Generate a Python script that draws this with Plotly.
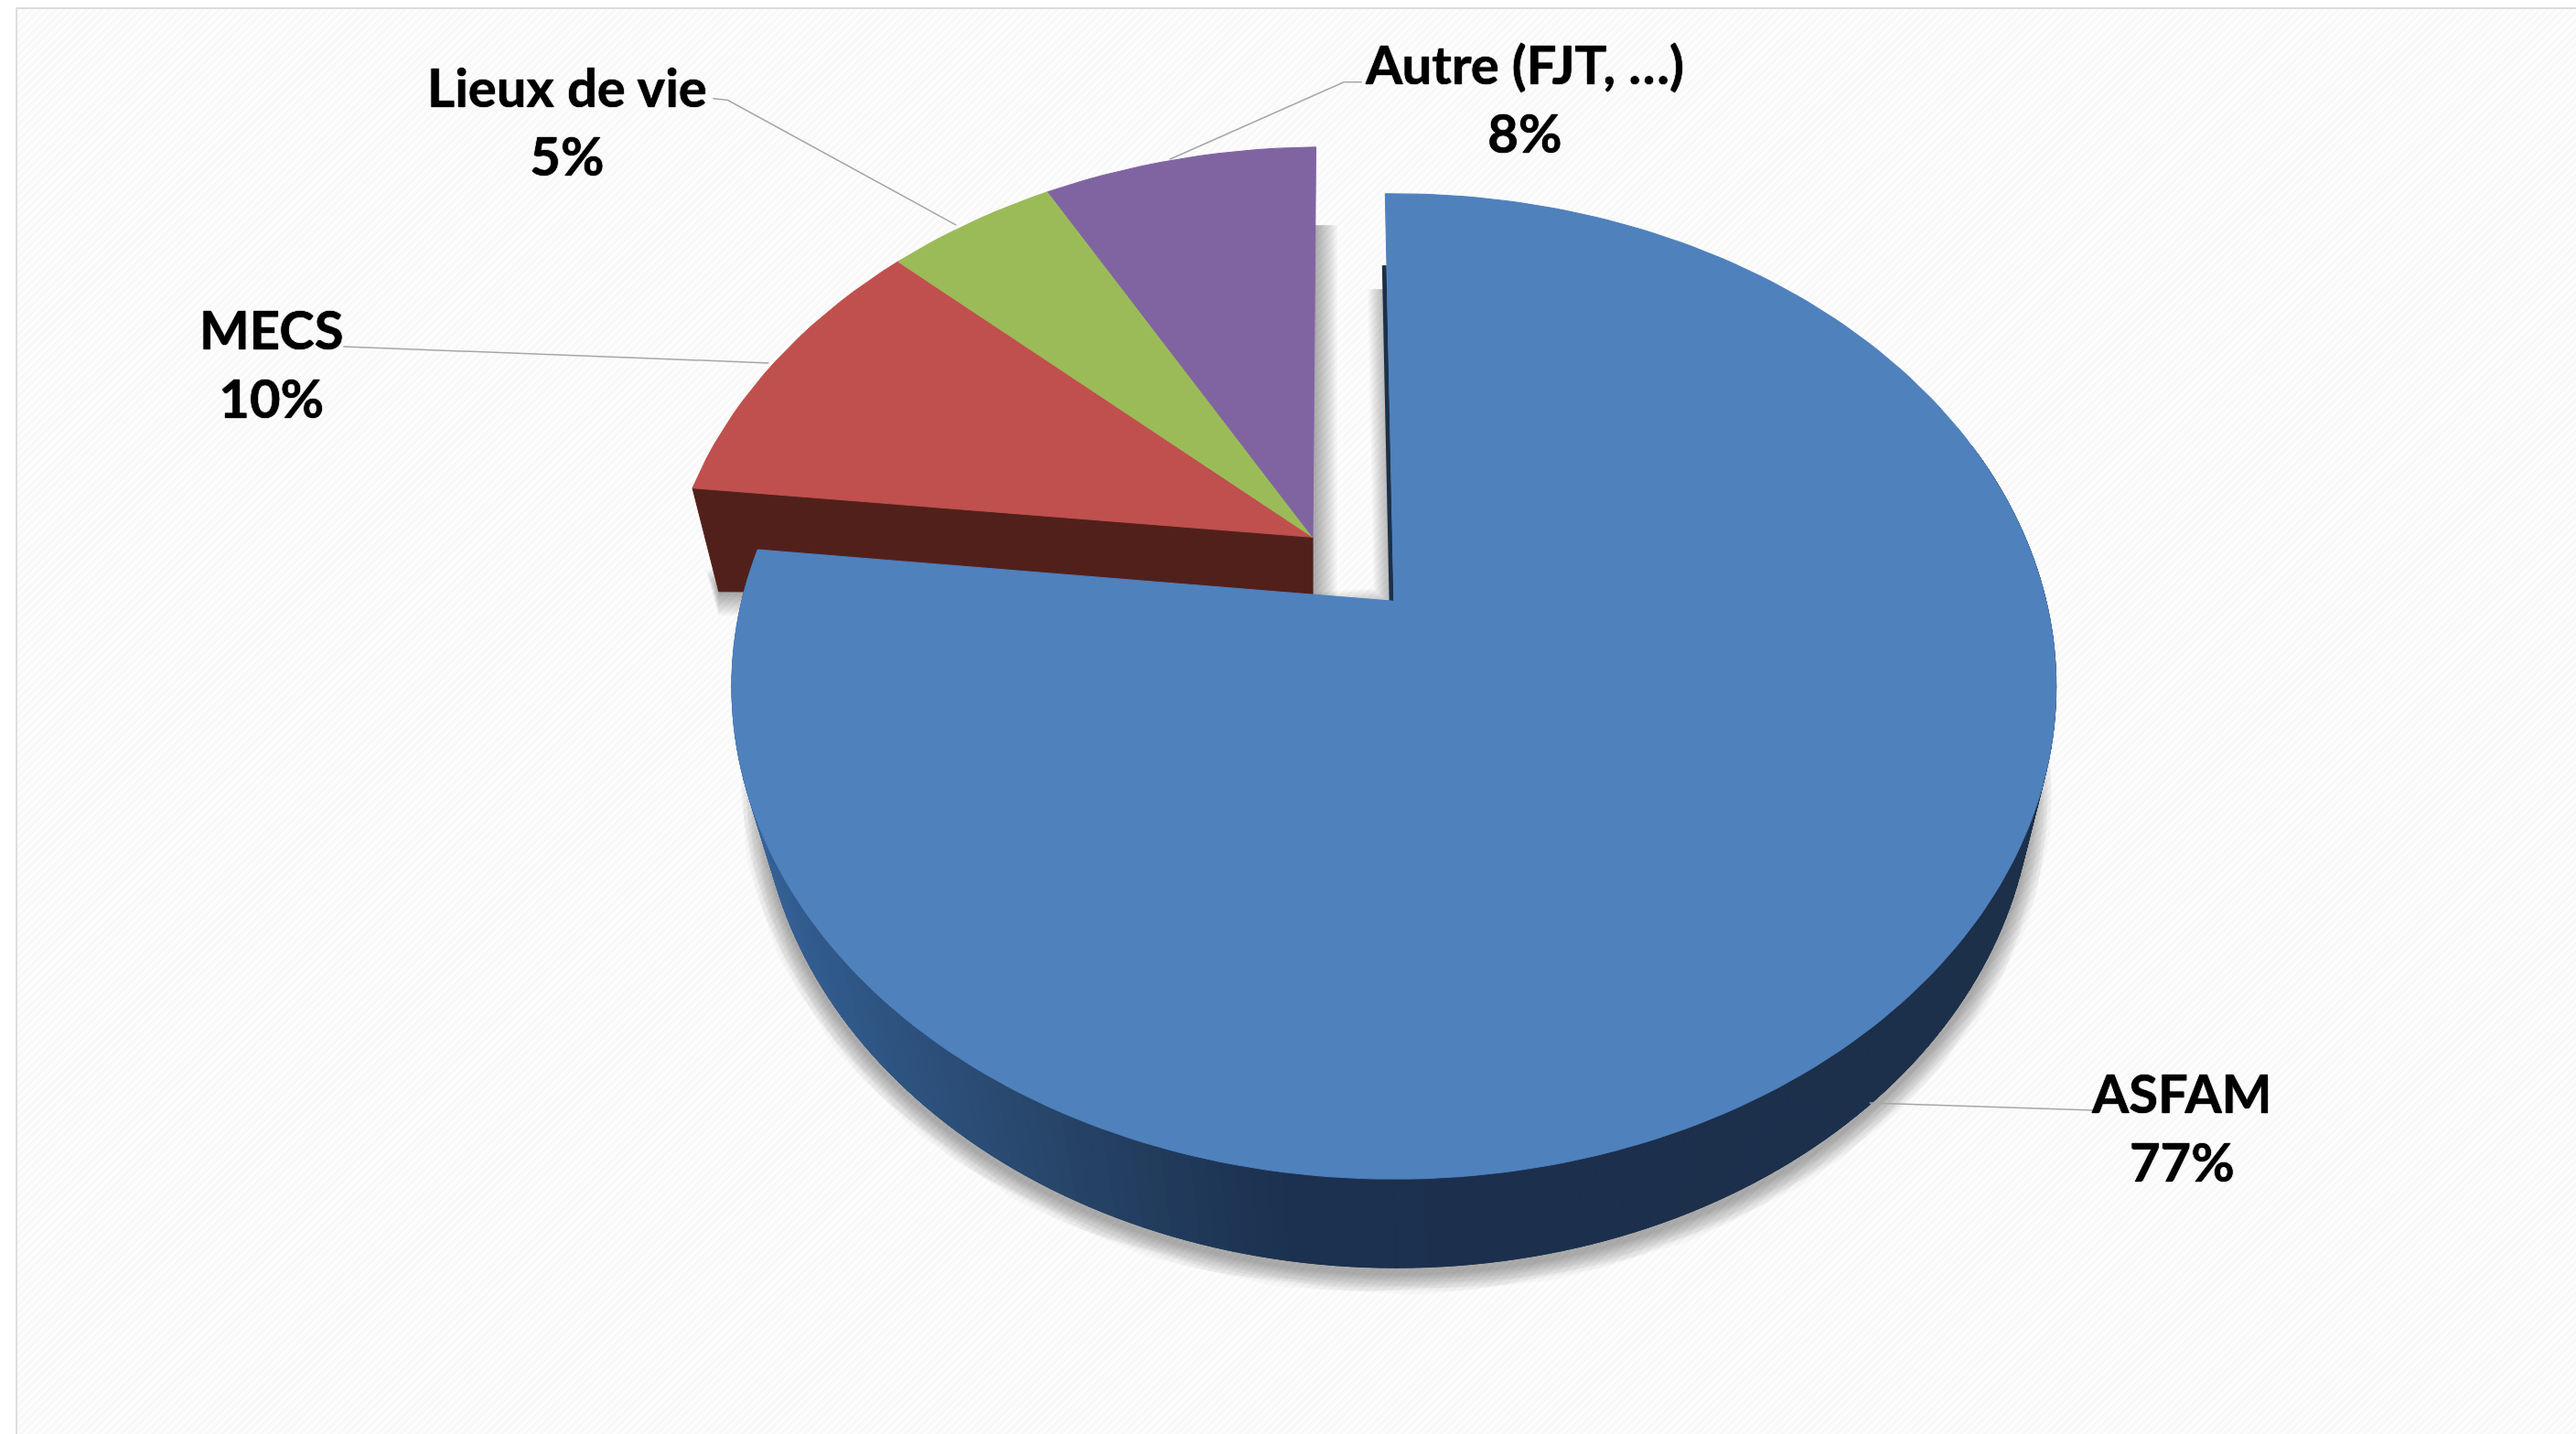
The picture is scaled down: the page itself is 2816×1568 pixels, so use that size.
import base64
import numpy as np
import plotly.graph_objects as go

# ---- data -------------------------------------------------------------
categories = ["ASFAM", "MECS", "Lieux de vie", "Autre (FJT, …)"]
values = [77, 10, 5, 8]
top_colors = ["#4F81BD", "#C0504D", "#9BBB59", "#8064A2"]
percent_labels = ["77%", "10%", "5%", "8%"]

# ---- geometry of the perspective disc (axis units = 1/1.796 px) ---------
W, H = 2816, 1568
S = W / 1568
CX, CY = 848.5, 366.0
A, B, K = 397.0, 291.0, 0.173
ROT = -0.9 / 360          # small rotation of the whole disc, in turns
U0, V0 = -0.1275, 0.137   # explosion of the three small slices


def project(u, v):
    w = 1 + K * v
    return CX + A * u / w, CY - B * v / w


def arc(start, end, n=None):
    n = n or max(3, int(abs(end - start) * 200))
    t = (np.linspace(start, end, n) + ROT) * 2 * np.pi
    return np.sin(t), np.cos(t)


fractions = np.array(values) / sum(values)
edges = np.concatenate([[0], np.cumsum(fractions)])

fig = go.Figure()


def poly(x, y, color):
    fig.add_trace(go.Scatter(x=np.append(x, x[0]), y=np.append(y, y[0]), mode="lines",
                             fill="toself", fillcolor=color,
                             line=dict(color=color, width=1), hoverinfo="skip", showlegend=False))


def shadow(x, y, dy, widths, alpha=0.03):
    # trace opacity composites fill and stroke as one shape: a soft dilation
    for wd in widths[::-1]:
        fig.add_trace(go.Scatter(x=np.append(x, x[0]), y=np.append(y, y[0]) + dy, mode="lines",
                                 fill="toself", fillcolor="#000000", opacity=alpha,
                                 line=dict(color="#000000", width=wd),
                                 hoverinfo="skip", showlegend=False))


# ---- blue slice outline --------------------------------------------------
bu, bv = arc(edges[0], edges[1], 240)
bx, by = project(bu, bv)
# lower rim: same ellipse, slightly narrower, lower by the thickness of the disc
low_x = 851 + (bx - 849.5) * 0.9615
low_y = by + 54
blue_x, blue_y = np.append(bx, CX), np.append(by, CY)

# ---- exploded group outline ----------------------------------------------
gu, gv = arc(edges[1], edges[4], 80)
gx, gy = project(gu + U0, gv + V0)
ax_, ay_ = project(U0, V0)
cdx, cdy = 16.0, 63.0     # drop of the cut wall at the rim
adx, ady = 0.0, 35.0      # drop of the cut wall at the apex

# group shadow: only right of the straight edge and under the cut wall
edge_x = gx[-1] + (ax_ - gx[-1]) * 0.8
edge_y = gy[-1] + (ay_ - gy[-1]) * 0.2
shadow(np.array([edge_x, ax_ + adx, gx[0] + cdx]),
       np.array([edge_y, ay_ + ady, gy[0] + cdy]), 0, tuple(range(2, 54, 5)))
# blue shadow
shadow(np.concatenate([low_x, [CX]]), np.concatenate([low_y, [CY]]), 4, tuple(range(2, 46, 3)), 0.02)

# ---- exploded slices: wall then tops --------------------------------------
poly([gx[0], ax_, ax_ + adx, gx[0] + cdx], [gy[0], ay_, ay_ + ady, gy[0] + cdy], "#52201B")
for i in (1, 2, 3):
    u, v = arc(edges[i], edges[i + 1])
    x, y = project(u + U0, v + V0)
    poly(np.append(x, ax_), np.append(y, ay_), top_colors[i])

# ---- blue wall with gradient ----------------------------------------------
stops_x = [463, 537, 622, 707, 792, 1260]
stops_c = np.array([[54, 100, 155], [47, 86, 133], [42, 74, 112], [35, 61, 94], [28, 49, 80], [28, 48, 74]])
for i in range(0, len(bu) - 1):
    j = i + 2 if i + 2 < len(bu) else i + 1
    xs = np.array([bx[i], bx[j], low_x[j], low_x[i]])
    ys = np.array([by[i], by[j], low_y[j], low_y[i]])
    if bv[i] > 0.35:
        continue
    c = [int(np.interp(low_x[i], stops_x, stops_c[:, k])) for k in range(3)]
    poly(xs, ys, f"rgb({c[0]},{c[1]},{c[2]})")

# thin dark sliver of the cut face next to the gap
su, sv = arc(0, 0, 2)
sx, sy = project(np.array([su[0] * 0.8, 0.0]), np.array([sv[0] * 0.8, 0.0]))
fig.add_trace(go.Scatter(x=sx - 1.5, y=sy, mode="lines", line=dict(color="#1C3048", width=5),
                         hoverinfo="skip", showlegend=False))

poly(blue_x, blue_y, top_colors[0])

# ---- labels and leaders ----------------------------------------------------
label_xy = [(1328, 686), (165, 221), (345, 73.5), (928, 59.5)]
leaders = [
    ([1275, 1138], [676, 671.5]),
    ([209, 468], [211, 221]),
    ([434, 443, 582], [60, 61, 137]),
    ([829, 818, 712], [50, 50, 97]),
]
for lx, ly in leaders:
    fig.add_trace(go.Scatter(x=lx, y=ly, mode="lines", line=dict(color="#A6A6A6", width=1.5),
                             hoverinfo="skip", showlegend=False))
annotations = []
for name, pct, (x, y) in zip(categories, percent_labels, label_xy):
    annotations.append(dict(x=x, y=y, xref="x", yref="y", showarrow=False, align="center",
                            text=f"<b>{name}<br>{pct}</b>",
                            font=dict(family="Lato", size=58, color="#000000",
                                      shadow="0 0 1px #000, 0 0 1px #000")))

# ---- background -------------------------------------------------------------
svg = (f'<svg xmlns="http://www.w3.org/2000/svg" width="{W}" height="{H}">'
       '<defs><pattern id="p" width="6" height="6" patternUnits="userSpaceOnUse" '
       'patternTransform="rotate(45)"><rect width="6" height="6" fill="#FDFDFD"/>'
       '<rect width="3" height="6" fill="#F8F8F8"/></pattern></defs>'
       f'<rect width="{W}" height="{H}" fill="url(#p)"/></svg>')
src = "data:image/svg+xml;base64," + base64.b64encode(svg.encode()).decode()

fig.update_layout(
    width=W, height=H, autosize=False, margin=dict(l=0, r=0, t=0, b=0),
    paper_bgcolor="#FFFFFF", plot_bgcolor="rgba(0,0,0,0)", showlegend=False,
    xaxis=dict(range=[0, W / S], visible=False, fixedrange=True),
    yaxis=dict(range=[H / S, 0], visible=False, fixedrange=True),
    annotations=annotations,
    images=[dict(source=src, xref="paper", yref="paper", x=18 / W, y=1 - 9 / H,
                 sizex=1, sizey=1, sizing="stretch", xanchor="left", yanchor="top", layer="below")],
    shapes=[dict(type="line", xref="x", yref="y", x0=10, x1=10, y0=5, y1=H / S,
                 line=dict(color="#DCDCDC", width=2), layer="below"),
            dict(type="line", xref="x", yref="y", x0=10, x1=W / S, y0=5, y1=5,
                 line=dict(color="#DCDCDC", width=2), layer="below")],
)

fig.write_html("out.html", config=dict(displayModeBar=False),
               post_script="document.body.style.margin='0';document.body.style.overflow='hidden';")
